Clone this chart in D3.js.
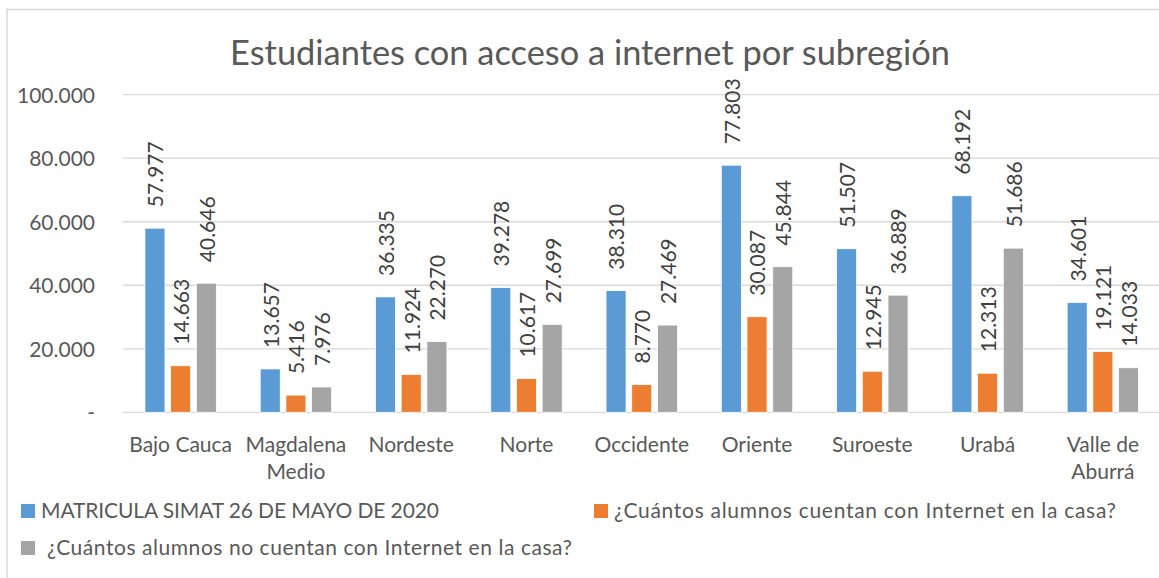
<!DOCTYPE html>
<html>
<head>
<meta charset="utf-8">
<script src="https://d3js.org/d3.v7.min.js"></script>
<style>
body { margin: 0; background: #fff; }
svg { display: block; font-family: Lato, "Open Sans", sans-serif; }
.grid line { stroke: #d9d9d9; stroke-width: 1.3; }
.tick text { fill: #595959; }
</style>
</head>
<body>
<div id="container"></div>
<script>

// data
var regiones = ["Bajo Cauca", "Magdalena Medio", "Nordeste", "Norte", "Occidente",
                "Oriente", "Suroeste", "Urabá", "Valle de Aburrá"];
var series = ["MATRICULA SIMAT 26 DE MAYO DE 2020",
              "¿Cuántos alumnos cuentan con Internet en la casa?",
              " ¿Cuántos alumnos no cuentan con Internet en la casa?"];
var matricula = [57977, 13657, 36335, 39278, 38310, 77803, 51507, 68192, 34601];
var conInternet = [14663, 5416, 11924, 10617, 8770, 30087, 12945, 12313, 19121];
var sinInternet = [40646, 7976, 22270, 27699, 27469, 45844, 36889, 51686, 14033];
var yTicks = [0, 20000, 40000, 60000, 80000, 100000];
var colors = ["#5B9BD5", "#ED7D31", "#A5A5A5"];

var values = [matricula, conInternet, sinInternet];
var data = [];
regiones.forEach(function(r, i) {
  series.forEach(function(s, j) {
    data.push({region: r, serie: s, value: values[j][i]});
  });
});

var W = 1159, H = 578;
var svg = d3.select("#container").append("svg")
    .attr("width", W).attr("height", H);

// chart border (cropped on right and bottom in the original)
svg.append("rect")
    .attr("x", 7).attr("y", 9.5)
    .attr("width", W + 20).attr("height", H + 20)
    .attr("fill", "none").attr("stroke", "#d9d9d9").attr("stroke-width", 1.5);

var es = d3.formatLocale({decimal: ",", thousands: ".", grouping: [3], currency: ["$", ""]});
var fmt = es.format(",d");

var x = d3.scaleBand().domain(regiones).range([123, 1160.5]).padding(0);
var xs = d3.scaleBand().domain(series).range([0, x.bandwidth()])
    .paddingInner(0.22).paddingOuter(0.853);
var y = d3.scaleLinear().domain([0, 100000]).range([412.3, 94.7]);

// gridlines
svg.append("g").attr("class", "grid")
  .selectAll("line").data(yTicks).enter().append("line")
    .attr("x1", 123).attr("x2", 1160.5)
    .attr("y1", function(d) { return y(d); })
    .attr("y2", function(d) { return y(d); });

// y axis labels
var yAxis = svg.append("g")
    .attr("transform", "translate(95,0)")
    .call(d3.axisLeft(y).tickValues(yTicks).tickSize(0).tickPadding(0)
      .tickFormat(function(d) { return d === 0 ? "-" : fmt(d); }));
yAxis.select(".domain").remove();
yAxis.selectAll("text")
    .attr("font-size", "21px").attr("font-family", "Lato")
    .attr("dy", "0.35em");

// bars
svg.append("g").selectAll("rect").data(data).enter().append("rect")
    .attr("x", function(d) { return x(d.region) + xs(d.serie); })
    .attr("y", function(d) { return y(d.value); })
    .attr("width", xs.bandwidth())
    .attr("height", function(d) { return y(0) - y(d.value); })
    .attr("fill", function(d) { return colors[series.indexOf(d.serie)]; })
    .attr("stroke", "#fff").attr("stroke-width", 0.8);

// value labels
svg.append("g").selectAll("text").data(data).enter().append("text")
    .attr("transform", function(d) {
      return "translate(" + (x(d.region) + xs(d.serie) + xs.bandwidth() / 2 + 1) + "," +
             (y(d.value) - 21) + ") rotate(-90)";
    })
    .attr("dy", "0.35em")
    .attr("font-size", "21px")
    .attr("fill", "#404040")
    .text(function(d) { return fmt(d.value); });

// x category labels
var xl = svg.append("g").selectAll("text").data(regiones).enter().append("text")
    .attr("x", function(d) { return x(d) + x.bandwidth() / 2; })
    .attr("y", 452)
    .attr("text-anchor", "middle")
    .attr("font-size", "21px")
    .attr("fill", "#595959");
xl.each(function(d) {
  var t = d3.select(this);
  var lines = d === "Magdalena Medio" ? ["Magdalena", "Medio"] :
              d === "Valle de Aburrá" ? ["Valle de", "Aburrá"] : [d];
  lines.forEach(function(l, i) {
    t.append("tspan").attr("x", x(d) + x.bandwidth() / 2)
      .attr("dy", i === 0 ? 0 : 27).text(l);
  });
});

// title
var title = svg.append("text")
    .attr("x", 590).attr("y", 65)
    .attr("text-anchor", "middle")
    .attr("font-size", "31px")
    .attr("fill", "#595959")
    .text("Estudiantes con acceso a internet por subregión");
var tl = title.node().getComputedTextLength();
title.attr("font-size", (31 * 720 / tl) + "px");

// legend
var legPos = [[21, 511], [594, 511], [21, 548]];
var legWidth = [398, 502, 531];
var leg = svg.append("g").selectAll("g").data(series).enter().append("g")
    .attr("transform", function(d, i) { return "translate(" + legPos[i][0] + "," + legPos[i][1] + ")"; });
leg.append("rect").attr("x", 0).attr("y", -7).attr("width", 14).attr("height", 14)
    .attr("fill", function(d, i) { return colors[i]; });
leg.append("text").attr("x", 20).attr("dy", "0.35em")
    .attr("font-size", "21px").attr("fill", "#595959")
    .style("white-space", "pre")
    .text(function(d) { return d; })
    .each(function(d, i) {
      var len = this.getComputedTextLength();
      d3.select(this).attr("textLength", legWidth[i]).attr("lengthAdjust", "spacing");
    });

</script>
</body>
</html>
